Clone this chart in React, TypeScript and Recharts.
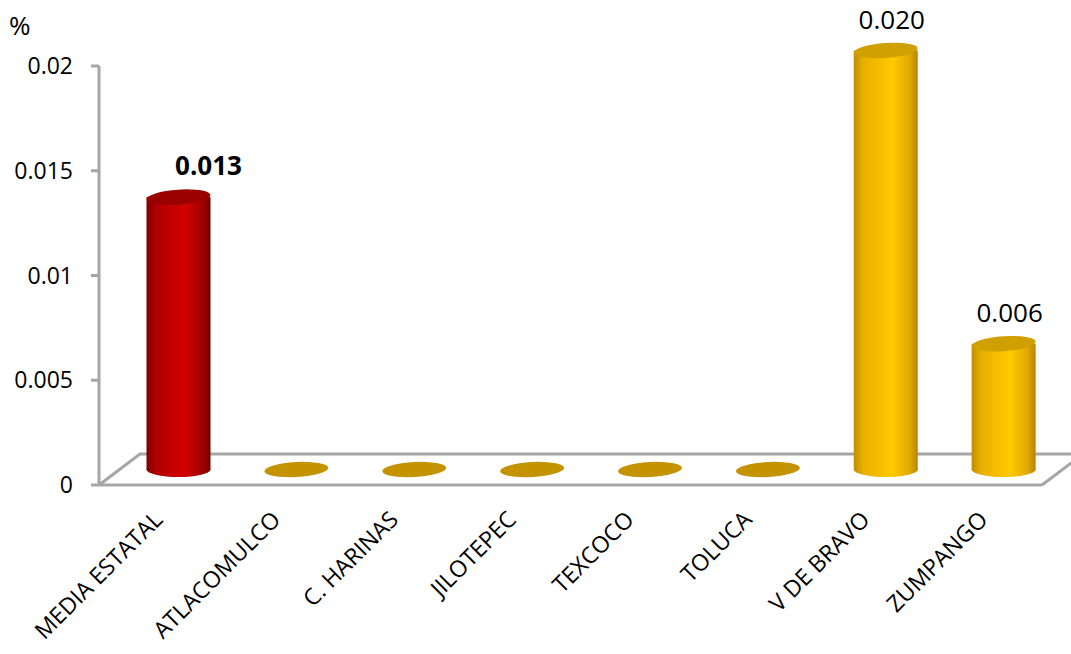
import React from 'react';
import { BarChart, Bar, XAxis, YAxis, usePlotArea } from 'recharts';

const categories = ['MEDIA ESTATAL', 'ATLACOMULCO', 'C. HARINAS', 'JILOTEPEC', 'TEXCOCO', 'TOLUCA', 'V DE BRAVO', 'ZUMPANGO'];
const values = [0.013, 0, 0, 0, 0, 0, 0.02, 0.006];
const valueLabels = ['0.013', '', '', '', '', '', '0.020', '0.006'];
const yTicks = [0, 0.005, 0.01, 0.015, 0.02];

const data = categories.map((c, i) => ({ name: c, value: values[i], label: valueLabels[i] }));

const DX = 41;
const DY = 31;
const FONT = '"Open Sans", sans-serif';
const GRID = '#A6A6A6';

function Floor() {
  const pa = usePlotArea();
  if (!pa) return null;
  const { x, y, width, height } = pa;
  const b = y + height;
  return (
    <polyline
      points={`${x},${b} ${x + DX},${b - DY} ${x + width + DX},${b - DY} ${x + width},${b}`}
      fill="#fff"
      stroke={GRID}
      strokeWidth={3}
    />
  );
}

function Cylinder(props: any) {
  const { x, y, width, height, index } = props;
  const cx = x + width / 2 + DX / 2;
  const rx = 32;
  const ry = 7.5;
  const top = y - DY / 2;
  const bottom = y + height - DY / 2;
  const isRed = index === 0;
  if (!height || height < 1) {
    return <ellipse cx={cx} cy={bottom} rx={rx} ry={ry} fill="#C49300" transform={`rotate(-3 ${cx} ${bottom})`} />;
  }
  const body = isRed ? 'url(#redBody)' : 'url(#yelBody)';
  const cap = isRed ? '#9A0000' : '#CFA000';
  return (
    <g>
      <ellipse cx={cx} cy={bottom} rx={rx} ry={ry} fill={body} />
      <rect x={cx - rx} y={top} width={rx * 2} height={bottom - top} fill={body} />
      <ellipse cx={cx} cy={top} rx={rx} ry={ry} fill={cap} transform={`rotate(-4 ${cx} ${top})`} />
    </g>
  );
}

function ValueLabel(props: any) {
  const { x, y, width, index } = props;
  const txt = valueLabels[index];
  if (!txt) return null;
  const cx = x + width / 2 + DX / 2 + (index === 0 ? 30 : 6);
  return (
    <text
      x={cx}
      y={y - DY / 2 - 22}
      textAnchor="middle"
      fontFamily={FONT}
      fontSize={26}
      fontWeight={index === 0 ? 700 : 400}
      fill="#000"
    >
      {txt}
    </text>
  );
}

function XTick(props: any) {
  const { x, y, payload } = props;
  return (
    <text
      x={0}
      y={0}
      transform={`translate(${x + 6},${y + 36}) rotate(-45)`}
      textAnchor="end"
      fontFamily={FONT}
      fontSize={23}
      fill="#000"
    >
      {payload.value}
    </text>
  );
}

export default function App() {
  return (
    <div style={{ position: 'absolute', left: 0, top: 0, width: 1071, height: 654, background: '#fff' }}>
      <div style={{ position: 'absolute', left: 9, top: 10, fontFamily: FONT, fontSize: 26, lineHeight: '30px', color: '#000' }}>%</div>
      <BarChart width={1071} height={654} data={data} margin={{ top: 66, right: 29, left: 0, bottom: 0 }} barCategoryGap={0}>
        <defs>
          <linearGradient id="redBody" x1="0" y1="0" x2="1" y2="0">
            <stop offset="0" stopColor="#7E0000" />
            <stop offset="0.15" stopColor="#B00000" />
            <stop offset="0.6" stopColor="#D20000" />
            <stop offset="0.88" stopColor="#A00000" />
            <stop offset="1" stopColor="#6E0000" />
          </linearGradient>
          <linearGradient id="yelBody" x1="0" y1="0" x2="1" y2="0">
            <stop offset="0" stopColor="#C08D00" />
            <stop offset="0.15" stopColor="#E8B000" />
            <stop offset="0.6" stopColor="#FFCA00" />
            <stop offset="0.88" stopColor="#E0A800" />
            <stop offset="1" stopColor="#B58500" />
          </linearGradient>
        </defs>
        <Floor />
        <XAxis
          dataKey="name"
          height={169}
          axisLine={{ stroke: GRID, strokeWidth: 3 }}
          tickLine={false}
          tickSize={0}
          tickMargin={0}
          interval={0}
          tick={<XTick />}
        />
        <YAxis
          width={99}
          domain={[0, 0.02]}
          ticks={yTicks}
          axisLine={{ stroke: GRID, strokeWidth: 3 }}
          tickLine={{ stroke: GRID, strokeWidth: 3 }}
          tickSize={8}
          tickMargin={18}
          tick={{ fontFamily: FONT, fontSize: 23, fill: '#000' }}
        />
        <Bar dataKey="value" barSize={64} shape={<Cylinder />} label={<ValueLabel />} isAnimationActive={false} />
      </BarChart>
    </div>
  );
}
